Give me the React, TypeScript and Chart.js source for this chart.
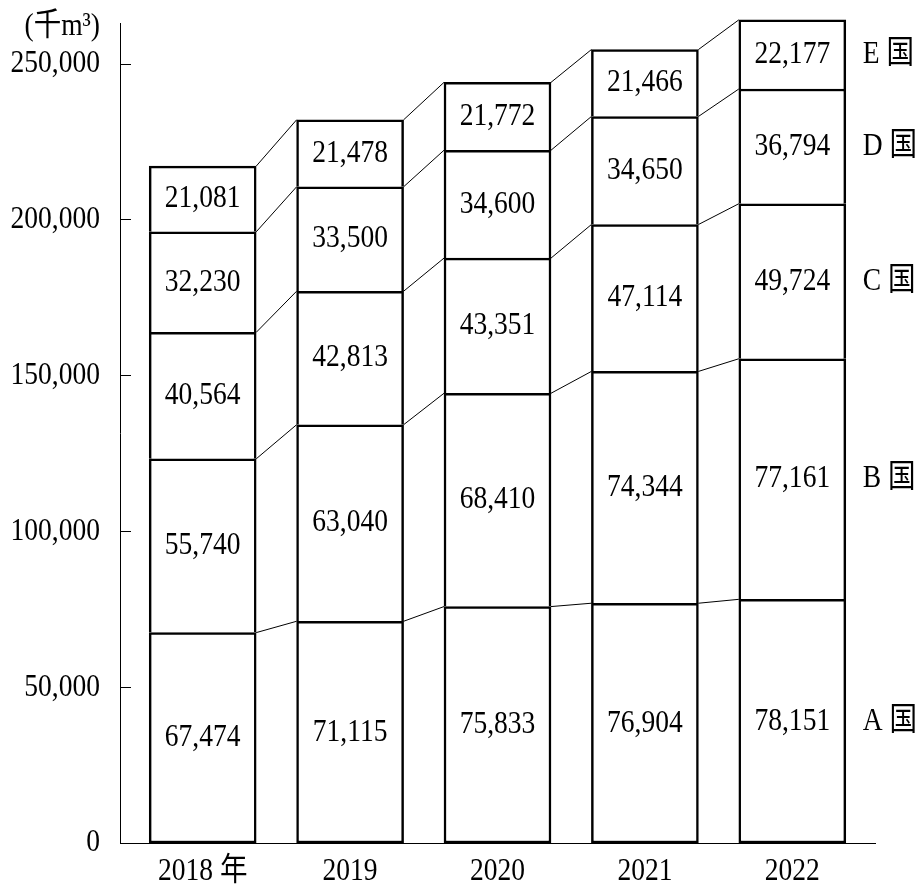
import React, { useEffect, useRef } from "react";
import { Chart, registerables } from "chart.js";

Chart.register(...registerables);

const years = ["2018 年", "2019", "2020", "2021", "2022"];
const countries = ["A 国", "B 国", "C 国", "D 国", "E 国"];
const seriesA = [67474, 71115, 75833, 76904, 78151];
const seriesB = [55740, 63040, 68410, 74344, 77161];
const seriesC = [40564, 42813, 43351, 47114, 49724];
const seriesD = [32230, 33500, 34600, 34650, 36794];
const seriesE = [21081, 21478, 21772, 21466, 22177];
const unitLabel = "(千m³)";
const yTickValues = [0, 50000, 100000, 150000, 200000, 250000];

const FONT_FAMILY = '"Liberation Serif", "Noto Sans CJK JP", serif';
const FONT = `32px ${FONT_FAMILY}`;
const SX = 0.86;
const fmt = (v: number) => v.toLocaleString("en-US");

function drawText(ctx: CanvasRenderingContext2D, text: string, x: number, y: number, align: CanvasTextAlign) {
  ctx.save();
  ctx.translate(x, y);
  ctx.scale(SX, 1);
  ctx.font = FONT;
  ctx.fillStyle = "#000";
  ctx.textAlign = align;
  ctx.textBaseline = "middle";
  ctx.fillText(text, 0, 0);
  ctx.restore();
}

const overlayPlugin = {
  id: "overlay",
  afterDatasetsDraw(chart: any) {
    const ctx = chart.ctx;
    const n = chart.data.datasets.length;
    ctx.save();
    ctx.strokeStyle = "#000";
    ctx.lineWidth = 1;
    for (let d = 0; d < n; d++) {
      const meta = chart.getDatasetMeta(d);
      for (let i = 0; i < meta.data.length - 1; i++) {
        const a = meta.data[i];
        const b = meta.data[i + 1];
        ctx.beginPath();
        ctx.moveTo(a.x + a.width / 2, a.y);
        ctx.lineTo(b.x - b.width / 2, b.y);
        ctx.stroke();
      }
    }
    ctx.restore();
    for (let d = 0; d < n; d++) {
      const meta = chart.getDatasetMeta(d);
      const ds = chart.data.datasets[d];
      meta.data.forEach((el: any, i: number) => {
        drawText(ctx, fmt(ds.data[i].y), el.x, (el.y + el.base) / 2, "center");
      });
      const last = meta.data[meta.data.length - 1];
      drawText(ctx, countries[d], last.x + last.width / 2 + 17, (last.y + last.base) / 2, "left");
    }
  },
  afterDraw(chart: any) {
    const ctx = chart.ctx;
    const yScale = chart.scales.y;
    const xScale = chart.scales.x;
    const area = chart.chartArea;
    ctx.save();
    ctx.strokeStyle = "#000";
    ctx.lineWidth = 1;
    yScale.ticks.forEach((t: any) => {
      if (t.value === 0) return;
      const y = Math.round(yScale.getPixelForValue(t.value)) + 0.5;
      ctx.beginPath();
      ctx.moveTo(area.left, y);
      ctx.lineTo(area.left + 11, y);
      ctx.stroke();
    });
    ctx.restore();
    yScale.ticks.forEach((t: any) => {
      drawText(ctx, fmt(t.value), area.left - 20, yScale.getPixelForValue(t.value), "right");
    });
    xScale.ticks.forEach((t: any) => {
      const label = years[t.value];
      if (label) drawText(ctx, label, xScale.getPixelForValue(t.value), area.bottom + 29, "center");
    });
    drawText(ctx, unitLabel, area.left - 20, area.top + 4, "right");
  },
};

export default function App() {
  const ref = useRef<HTMLCanvasElement | null>(null);
  useEffect(() => {
    if (!ref.current) return;
    const mk = (label: string, vals: number[], first: boolean) => ({
      label,
      data: vals.map((v, i) => ({ x: i, y: v })),
      backgroundColor: "#fff",
      borderColor: "#000",
      borderWidth: 2.5,
      borderSkipped: first ? false : "start",
      barThickness: 107,
      clip: false,
    });
    const chart = new Chart(ref.current, {
      type: "bar",
      data: {
        datasets: [
          mk(countries[0], seriesA, true),
          mk(countries[1], seriesB, false),
          mk(countries[2], seriesC, false),
          mk(countries[3], seriesD, false),
          mk(countries[4], seriesE, false),
        ] as any,
      },
      options: {
        animation: false,
        responsive: false,
        layout: { padding: { top: 23, right: 40, left: 0, bottom: 0 } },
        plugins: { legend: { display: false }, tooltip: { enabled: false } },
        scales: {
          x: {
            type: "linear",
            stacked: true,
            offset: false,
            min: -0.561,
            max: 4.561,
            grid: { display: false, drawTicks: false, offset: false },
            border: { display: true, color: "#000", width: 1 },
            afterFit: (s: any) => {
              s.height = 42;
              s.paddingLeft = 0;
              s.paddingRight = 0;
            },
            ticks: {
              display: false,
              stepSize: 1,
              includeBounds: false,
              autoSkip: false,
            },
          },
          y: {
            stacked: true,
            min: 0,
            max: 263000,
            grid: { display: false, drawTicks: false },
            border: { display: true, color: "#000", width: 1 },
            afterFit: (s: any) => {
              s.width = 120;
              s.paddingTop = 0;
              s.paddingBottom = 0;
            },
            afterBuildTicks: (s: any) => {
              s.ticks = yTickValues.map((v) => ({ value: v }));
            },
            ticks: { display: false },
          },
        },
      } as any,
      plugins: [overlayPlugin],
    });
    return () => chart.destroy();
  }, []);
  return (
    <div style={{ position: "absolute", left: 0, top: 0, width: 915, height: 885 }}>
      <canvas ref={ref} width={915} height={885} style={{ display: "block" }} />
    </div>
  );
}
